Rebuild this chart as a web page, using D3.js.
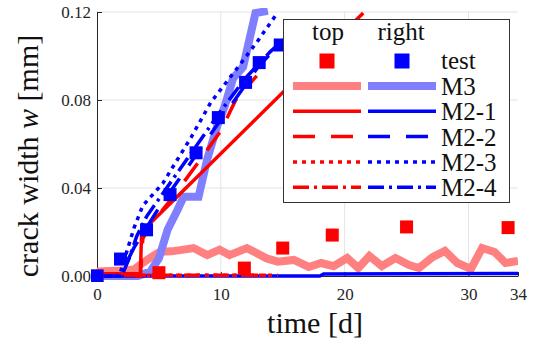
<!DOCTYPE html>
<html>
<head>
<meta charset="utf-8">
<script src="https://cdn.jsdelivr.net/npm/d3@7"></script>
<style>
  body { margin: 0; background: #fff; }
  svg text { font-family: "Liberation Serif", "Times New Roman", "DejaVu Serif", "Liberation Sans", sans-serif; }
</style>
</head>
<body>
<svg id="chart" width="534" height="340"></svg>
<script>
// ---- data ----
const xTicks = [0, 10, 20, 30, 34];
const yTicks = [0, 0.04, 0.08, 0.12];

// test points (time [d], crack width [mm])
const testTopT = [0, 5, 11.9, 15, 19, 25, 33.2];
const testTopW = [0, 0.0015, 0.0036, 0.0127, 0.0186, 0.0223, 0.022];
const testRightT = [0, 1.9, 4.0, 5.9, 8.0, 9.8, 12.0, 13.1, 14.8];
const testRightW = [0, 0.0077, 0.021, 0.037, 0.056, 0.072, 0.088, 0.097, 0.105];

// M3
const m3TopT = [0, 2, 3, 3.7, 4.5, 5.1, 6, 7, 7.8, 8.9, 9.9, 10.7, 12.1, 13.7, 14.6, 15.9, 17.1, 18.1, 19.1, 20.2, 21.1, 22, 23, 24.1, 25.2, 26, 27.1, 28.1, 29.1, 30.2, 31.1, 32.1, 33, 34];
const m3TopW = [0.002, 0.0025, 0.003, 0.006, 0.009, 0.011, 0.0112, 0.012, 0.0127, 0.0095, 0.012, 0.0095, 0.0127, 0.008, 0.0065, 0.0073, 0.0041, 0.0059, 0.0045, 0.0082, 0.0036, 0.0091, 0.0045, 0.0082, 0.005, 0.0036, 0.0086, 0.0114, 0.0059, 0.0032, 0.0127, 0.0109, 0.0059, 0.0068];
const m3RightT = [0, 3.3, 4.3, 5, 5.7, 6.5, 7, 8.2, 8.9, 9.7, 10.3, 11, 11.8, 12.8, 13.8];
const m3RightW = [0, 0, 0.002, 0.008, 0.021, 0.030, 0.036, 0.036, 0.053, 0.068, 0.077, 0.090, 0.095, 0.1195, 0.1205];

// M2-1
const m21TopT = [0, 3.5, 3.6, 4.3, 21.5];
const m21TopW = [0.001, 0.001, 0.019, 0.024, 0.1195];
const m21RightT = [0, 18, 18.3, 34];
const m21RightW = [0, 0, 0.0009, 0.0011];

// M2-2
const m22TopT = [0, 3.5, 3.7, 4.3, 6, 8.1, 10, 11.2, 12.9];
const m22TopW = [0, 0, 0.017, 0.023, 0.035, 0.051, 0.066, 0.080, 0.091];
const m22RightT = [0, 1.6, 2.2, 3, 4, 5, 6, 8, 10, 12, 13, 15.2];
const m22RightW = [0, 0, 0.004, 0.013, 0.022, 0.031, 0.039, 0.055, 0.071, 0.087, 0.095, 0.108];

// M2-3
const m23TopT = [0, 14.6];
const m23TopW = [0.0003, 0.0003];
const m23RightT = [0, 1.8, 2.4, 3, 3.7, 5.3, 7.6, 9.2, 11.4, 13, 14.5];
const m23RightW = [0, 0, 0.011, 0.022, 0.032, 0.042, 0.063, 0.079, 0.095, 0.107, 0.119];

// M2-4
const m24TopT = [0, 13.8];
const m24TopW = [0.0003, 0.0003];
const m24RightT = [0, 2, 2.6, 3.2, 4, 5, 6, 8, 10, 12, 14, 15];
const m24RightW = [0, 0, 0.008, 0.018, 0.027, 0.035, 0.043, 0.059, 0.075, 0.090, 0.102, 0.107];

const legendNames = ['M3', 'M2-1', 'M2-2', 'M2-3', 'M2-4'];

// ---- styles ----
const SERIF = '"Liberation Serif", "Times New Roman", "DejaVu Serif", "Liberation Sans", sans-serif';
const RED = '#ff0000', BLUE = '#0000ff', LRED = '#ff8080', LBLUE = '#8080ff';
const dashes = { solid: null, dashed: '22,16', dotted: '4,5', dashdot: '16,5,3,5' };

const svg = d3.select('#chart');
const margin = { top: 12, right: 16, bottom: 64, left: 97 };
const width = 534 - margin.left - margin.right;
const height = 340 - margin.top - margin.bottom;

const x = d3.scaleLinear().domain([0, 34]).range([0, width]);
const y = d3.scaleLinear().domain([0, 0.12]).range([height, 0]);

const g = svg.append('g').attr('transform', `translate(${margin.left},${margin.top})`);

// grid
g.append('g').selectAll('line').data(xTicks.filter(d => d > 0 && d < 34)).enter()
  .append('line')
  .attr('x1', d => x(d)).attr('x2', d => x(d))
  .attr('y1', 0).attr('y2', height)
  .attr('stroke', '#e3e3e3').attr('stroke-width', 1);
g.append('g').selectAll('line').data(yTicks.filter(d => d > 0)).enter()
  .append('line')
  .attr('x1', 0).attr('x2', width)
  .attr('y1', d => y(d)).attr('y2', d => y(d))
  .attr('stroke', '#e3e3e3').attr('stroke-width', 1);

// axes
const xAxis = d3.axisBottom(x).tickValues(xTicks).tickFormat(d3.format('d'))
  .tickSizeInner(-4).tickSizeOuter(0).tickPadding(12);
const yAxis = d3.axisLeft(y).tickValues(yTicks).tickFormat(d3.format('.2f'))
  .tickSizeInner(-5).tickSizeOuter(0).tickPadding(7);

const gx = g.append('g').attr('transform', `translate(0,${height})`).call(xAxis);
const gy = g.append('g').call(yAxis);
[gx, gy].forEach(a => {
  a.attr('font-family', SERIF).attr('font-size', 17);
  a.select('.domain').attr('stroke', '#262626');
  a.selectAll('.tick line').attr('stroke', '#262626');
  a.selectAll('.tick text').attr('fill', '#262626')
    .attr('font-family', SERIF).attr('font-size', 17);
});
gy.selectAll('.tick text').attr('x', -6);

// clip
g.append('clipPath').attr('id', 'plotclip')
  .append('rect').attr('x', -6).attr('y', -4).attr('width', width + 6).attr('height', height + 10);

const plot = g.append('g').attr('clip-path', 'url(#plotclip)');

const line = d3.line().x(d => x(d[0])).y(d => y(d[1]));
const zip = (ts, ws) => ts.map((t, i) => [t, ws[i]]);

function drawLine(ts, ws, color, w, dash) {
  plot.append('path')
    .datum(zip(ts, ws))
    .attr('d', line)
    .attr('fill', 'none')
    .attr('stroke', color)
    .attr('stroke-width', w)
    .attr('stroke-linejoin', 'miter')
    .attr('stroke-dasharray', dash);
}

drawLine(m3TopT, m3TopW, LRED, 8, null);
drawLine(m3RightT, m3RightW, LBLUE, 8, null);
drawLine(m21RightT, m21RightW, BLUE, 3.5, null);
drawLine(m23TopT, m23TopW, RED, 3.5, dashes.dotted);
drawLine(m24TopT, m24TopW, RED, 3.5, dashes.dashdot);
drawLine(m21TopT, m21TopW, RED, 3.5, null);
drawLine(m22TopT, m22TopW, RED, 3.5, dashes.dashed);
drawLine(m24RightT, m24RightW, BLUE, 3.5, dashes.dashdot);
drawLine(m22RightT, m22RightW, BLUE, 3.5, dashes.dashed);
drawLine(m23RightT, m23RightW, BLUE, 3.5, dashes.dotted);

// test squares
const sq = 13;
plot.append('g').selectAll('rect').data(zip(testTopT, testTopW)).enter()
  .append('rect')
  .attr('x', d => x(d[0]) - sq / 2).attr('y', d => y(d[1]) - sq / 2)
  .attr('width', sq).attr('height', sq).attr('fill', RED);
plot.append('g').selectAll('rect').data(zip(testRightT, testRightW)).enter()
  .append('rect')
  .attr('x', d => x(d[0]) - sq / 2).attr('y', d => y(d[1]) - sq / 2)
  .attr('width', sq).attr('height', sq).attr('fill', BLUE);

// axis labels
svg.append('text')
  .attr('x', 315).attr('y', 333)
  .attr('text-anchor', 'middle')
  .attr('font-family', SERIF).attr('font-size', 30).attr('fill', '#111')
  .text('time [d]');

const yl = svg.append('text')
  .attr('transform', 'translate(38,156) rotate(-90)')
  .attr('text-anchor', 'middle')
  .attr('font-family', SERIF).attr('font-size', 30).attr('fill', '#111');
yl.append('tspan').text('crack width ');
yl.append('tspan').attr('font-style', 'italic').text('w');
yl.append('tspan').text(' [mm]');

// legend
const lg = svg.append('g').attr('transform', 'translate(283,19)')
  .attr('font-family', SERIF).attr('font-size', 25).attr('fill', '#111');
lg.append('rect').attr('x', 0.5).attr('y', 0.5).attr('width', 226).attr('height', 183)
  .attr('fill', '#fff').attr('stroke', '#333').attr('stroke-width', 1);

lg.append('text').attr('x', 45).attr('y', 21).attr('text-anchor', 'middle').text('top');
lg.append('text').attr('x', 118).attr('y', 21).attr('text-anchor', 'middle').text('right');

const lsq = 15;
lg.append('rect').attr('x', 44 - lsq / 2).attr('y', 42 - lsq / 2).attr('width', lsq).attr('height', lsq).attr('fill', RED);
lg.append('rect').attr('x', 119 - lsq / 2).attr('y', 42 - lsq / 2).attr('width', lsq).attr('height', lsq).attr('fill', BLUE);
lg.append('text').attr('x', 158).attr('y', 50).text('test');

const legendStyles = [
  { cTop: LRED, cRight: LBLUE, w: 8, dash: null },
  { cTop: RED, cRight: BLUE, w: 3.5, dash: null },
  { cTop: RED, cRight: BLUE, w: 3.5, dash: dashes.dashed },
  { cTop: RED, cRight: BLUE, w: 3.5, dash: dashes.dotted },
  { cTop: RED, cRight: BLUE, w: 3.5, dash: dashes.dashdot }
];

legendNames.forEach((name, i) => {
  const yy = 67 + i * 25.3;
  const st = legendStyles[i];
  lg.append('line').attr('x1', 10).attr('x2', 78).attr('y1', yy).attr('y2', yy)
    .attr('stroke', st.cTop).attr('stroke-width', st.w).attr('stroke-dasharray', st.dash);
  lg.append('line').attr('x1', 85).attr('x2', 153).attr('y1', yy).attr('y2', yy)
    .attr('stroke', st.cRight).attr('stroke-width', st.w).attr('stroke-dasharray', st.dash);
  lg.append('text').attr('x', 158).attr('y', yy + 9).text(name);
});
</script>
</body>
</html>
